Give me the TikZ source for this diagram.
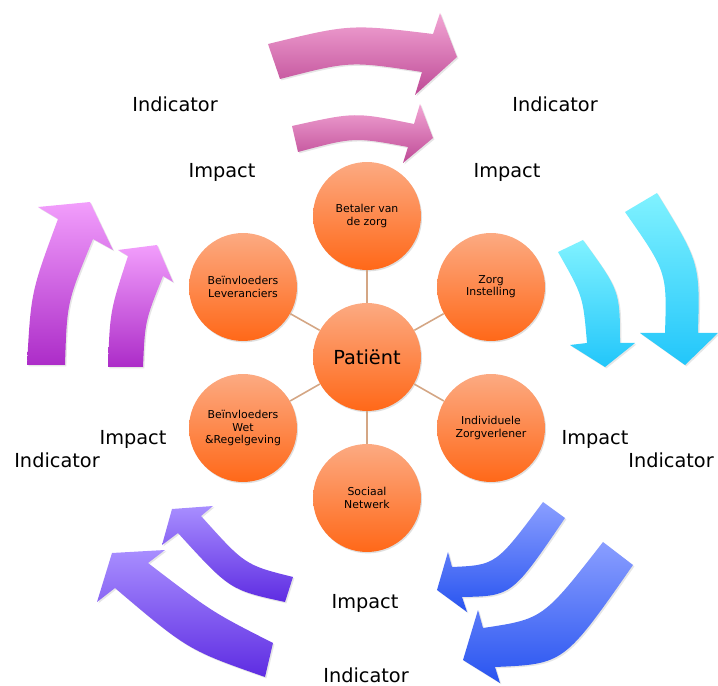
\documentclass[tikz,border=0pt]{standalone}
\usepackage{fontspec}
\setmainfont{DejaVu Sans}
\usepackage{xcolor}
\usetikzlibrary{shadows}

\definecolor{bolLicht}{RGB}{252,170,130}
\definecolor{bolDonker}{RGB}{255,104,24}
\definecolor{spaak}{RGB}{212,166,132}

\tikzset{
  bol/.style={circle, minimum size=2.16cm, inner sep=0pt, align=center,
    top color=bolLicht, bottom color=bolDonker,
    drop shadow={opacity=.25, shadow xshift=.6pt, shadow yshift=-.8pt},
    font=\fontsize{6.2}{7}\selectfont},
  lbl/.style={font=\fontsize{11}{13}\selectfont, inner sep=0pt},
  pijl/.style={drop shadow={opacity=.2, shadow xshift=.8pt, shadow yshift=-.8pt}},
  roze/.style={pijl, top color={rgb,255:red,242;green,165;blue,212}, bottom color={rgb,255:red,190;green,74;blue,150}},
  paars/.style={pijl, top color={rgb,255:red,242;green,158;blue,252}, bottom color={rgb,255:red,172;green,44;blue,200}},
  cyaan/.style={pijl, top color={rgb,255:red,128;green,242;blue,255}, bottom color={rgb,255:red,34;green,198;blue,250}},
  violet/.style={pijl, top color={rgb,255:red,168;green,142;blue,255}, bottom color={rgb,255:red,94;green,44;blue,226}},
  blauw/.style={pijl, top color={rgb,255:red,138;green,158;blue,255}, bottom color={rgb,255:red,40;green,84;blue,240}}
}

\begin{document}
\begin{tikzpicture}[x=0.02cm, y=-0.02cm]
\useasboundingbox (0,0) rectangle (718,686);

% bovenkant
\shade[roze] (268,44) .. controls (350,24) .. (433,34) -- (440,13) -- (457,57) -- (415,95) -- (422,72) .. controls (350,61) .. (280,79) -- cycle;
\shade[roze] (292,126) .. controls (355,112) .. (414,124) -- (420,104) -- (433,138) -- (403,163) -- (408,147) .. controls (354,137) .. (298,152) -- cycle;

% links
\shade[paars] (27,365) .. controls (31,292) .. (58,219) -- (38,207) -- (90,202) -- (113,250) -- (93,239) .. controls (67,302) .. (65,365) -- cycle;
\shade[paars] (108,367) .. controls (110,311) .. (128,256) -- (118,250) -- (157,245) -- (173,282) -- (163,276) .. controls (145,321) .. (143,367) -- cycle;

% rechts
\shade[cyaan] (558,252) -- (583,240) .. controls (620,291) .. (620,343) -- (635,343) -- (605,367) -- (570,345) -- (587,343) .. controls (583,296) .. (558,252) -- cycle;
\shade[cyaan] (625,212) -- (657,193) .. controls (700,263) .. (698,333) -- (718,333) -- (685,365) -- (640,333) -- (665,333) .. controls (667,272) .. (625,212) -- cycle;

% linksonder
\shade[violet] (293,577) .. controls (245,565) .. (201,516) -- (213,506) -- (172,509) -- (162,545) -- (178,533) .. controls (230,590) .. (285,602) -- cycle;
\shade[violet] (273,643) .. controls (212,612) .. (148,563) -- (165,550) -- (112,553) -- (97,602) -- (115,588) .. controls (188,650) .. (265,677) -- cycle;

% rechtsonder
\shade[blauw] (543,502) .. controls (496,565) .. (452,567) -- (448,552) -- (437,590) -- (467,612) -- (462,597) .. controls (512,596) .. (565,518) -- cycle;
\shade[blauw] (603,542) .. controls (543,619) .. (483,628) -- (478,610) -- (463,660) -- (500,683) -- (495,667) .. controls (564,664) .. (633,565) -- cycle;

\node[lbl] (indLB) at (175,104) {Indicator};
\node[lbl] (indRB) at (555,104) {Indicator};
\node[lbl] (impLB) at (222,172) {Impact};
\node[lbl] (impRB) at (507,172) {Impact};
\node[lbl] (impL) at (133,439) {Impact};
\node[lbl] (indL) at (57,460) {Indicator};
\node[lbl] (impR) at (595,439) {Impact};
\node[lbl] (indR) at (671,460) {Indicator};
\node[lbl] (impO) at (365,603) {Impact};
\node[lbl] (indO) at (366,675) {Indicator};

\node[bol, font=\fontsize{11}{13}\selectfont] (pat) at (367,357) {Patiënt};
\node[bol] (bet) at (367,216) {Betaler van\\de zorg};
\node[bol] (zorg) at (491,287) {Zorg\\Instelling};
\node[bol] (indiv) at (491,428) {Individuele\\Zorgverlener};
\node[bol] (soc) at (367,498) {Sociaal\\Netwerk};
\node[bol] (wet) at (243,428) {Beïnvloeders\\Wet\\\&Regelgeving};
\node[bol] (lev) at (243,287) {Beïnvloeders\\Leveranciers};

\foreach \n in {bet,zorg,indiv,soc,wet,lev}
  \draw[spaak, line width=0.9pt] (pat) -- (\n);
\end{tikzpicture}
\end{document}
